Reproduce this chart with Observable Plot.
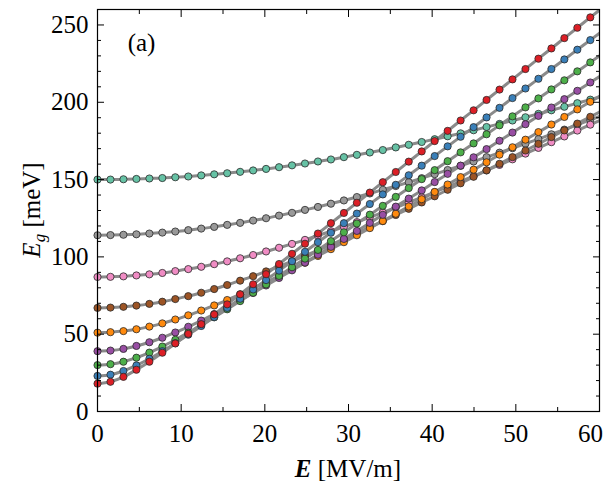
<!DOCTYPE html>
<html><head><meta charset="utf-8">
<script src="https://cdn.jsdelivr.net/npm/d3@7"></script>
<script src="https://cdn.jsdelivr.net/npm/@observablehq/plot@0.6"></script>
<style>body{margin:0;background:#fff}</style>
</head><body><div id="chart"></div>
<script>
// Field values (MV/m)
const field = [0, 1.55, 3.1, 4.65, 6.2, 7.75, 9.3, 10.85, 12.4, 13.95, 15.5, 17.05, 18.6, 20.15, 21.7, 23.25, 24.8, 26.35, 27.9, 29.45, 31, 32.55, 34.1, 35.65, 37.2, 38.75, 40.3, 41.85, 43.4, 44.95, 46.5, 48.05, 49.6, 51.15, 52.7, 54.25, 55.8, 57.35, 58.9];
const lineEndField = 60;

// Gap values (meV), one array per series
const teal   = [150.0,150.0,150.2,150.4,150.7,151.0,151.5,152.0,152.7,153.4,154.1,155.0,155.9,156.9,158.0,159.2,160.4,161.7,163.0,164.5,166.0,167.5,169.1,170.8,172.5,174.3,176.1,178.0,179.9,181.9,184.0,186.0,188.2,190.3,192.5,194.8,197.1,199.4,201.7];
const gray   = [114.0,114.1,114.3,114.6,115.1,115.7,116.4,117.3,118.3,119.4,120.7,122.0,123.5,125.0,126.7,128.5,130.4,132.3,134.4,136.5,138.7,141.0,143.4,145.8,148.3,150.9,153.5,156.2,158.9,161.7,164.5,167.4,170.3,173.2,176.2,179.3,182.3,185.4,188.6];
const pink   = [87.0,87.1,87.4,88.0,88.7,89.6,90.8,92.1,93.6,95.3,97.1,99.1,101.2,103.5,105.9,108.4,111.0,113.8,116.6,119.5,122.5,125.6,128.7,131.9,135.2,138.5,141.9,145.3,148.8,152.3,155.9,159.5,163.1,166.8,170.5,174.2,177.9,181.7,185.5];
const brown  = [67.0,67.2,67.7,68.5,69.6,71.0,72.7,74.6,76.8,79.2,81.8,84.6,87.5,90.6,93.9,97.2,100.7,104.2,107.8,111.6,115.4,119.2,123.1,127.1,131.1,135.2,139.2,143.4,147.6,151.8,156.0,160.2,164.5,168.8,173.1,177.5,181.8,186.2,190.6];
const orange = [51.0,51.3,52.0,53.2,54.9,57.0,59.5,62.2,65.3,68.6,72.1,75.8,79.6,83.6,87.7,91.9,96.2,100.6,105.0,109.5,114.0,118.6,123.2,127.9,132.6,137.3,142.0,146.8,151.6,156.4,161.2,166.1,170.9,175.8,180.7,185.6,190.5,195.4,200.3];
const purple = [39.0,39.4,40.5,42.4,44.8,47.7,51.1,54.8,58.8,63.0,67.5,72.0,76.7,81.5,86.4,91.3,96.3,101.4,106.5,111.6,116.8,122.0,127.2,132.5,137.7,143.0,148.4,153.7,159.0,164.4,169.7,175.1,180.4,185.8,191.2,196.6,202.0,207.4,212.8];
const green  = [30.0,30.6,32.2,34.8,38.1,42.0,46.4,51.0,55.9,60.9,66.1,71.4,76.8,82.2,87.7,93.3,98.9,104.5,110.2,115.9,121.6,127.3,133.0,138.8,144.5,150.3,156.1,161.9,167.6,173.4,179.3,185.1,190.9,196.7,202.5,208.3,214.2,220.0,225.8];
const blue   = [23.0,23.8,26.2,29.8,34.1,39.0,44.2,49.7,55.3,61.1,67.0,72.9,78.9,85.0,91.1,97.2,103.3,109.5,115.6,121.8,128.0,134.2,140.4,146.6,152.8,159.0,165.2,171.5,177.7,183.9,190.2,196.4,202.7,208.9,215.2,221.5,227.7,234.0,240.2];
const red    = [18.0,19.2,22.4,27.0,32.2,38.0,44.0,50.2,56.5,62.8,69.3,75.8,82.3,88.8,95.4,102.0,108.5,115.1,121.8,128.4,135.0,141.6,148.3,154.9,161.6,168.2,174.9,181.5,188.2,194.8,201.5,208.2,214.8,221.5,228.2,234.8,241.5,248.2,254.9];

// Fit-curve value at the right edge (x = 60) for each series
const seriesNames = ["S1","S2","S3","S4","S5","S6","S7","S8","S9"];
const seriesColors = ["#66c2a5","#999999","#f08cc4","#9c5425","#ff8a0e","#984ea3","#4daf4a","#3a7fb8","#dc1f26"];
const lineEndValues = [203.4, 190.8, 188.2, 193.7, 203.8, 216.6, 230.0, 244.7, 259.6];
const seriesValues = [teal, gray, pink, brown, orange, purple, green, blue, red];

const xMajor = [0, 10, 20, 30, 40, 50, 60];
const xMinor = [5, 15, 25, 35, 45, 55];
const yMajor = [0, 50, 100, 150, 200, 250];
const yMinor = [10, 20, 30, 40, 60, 70, 80, 90, 110, 120, 130, 140, 160, 170, 180, 190, 210, 220, 230, 240, 260];

const dots = [];
const lines = [];
seriesNames.forEach((s, k) => {
  seriesValues[k].forEach((v, i) => {
    dots.push({series: s, order: k, x: field[i], y: v});
    lines.push({series: s, x: field[i], y: v});
  });
  lines.push({series: s, x: lineEndField, y: lineEndValues[k]});
});

const font = "Liberation Serif, Times New Roman, serif";
const fs = 25;

const plot = Plot.plot({
  width: 607, height: 489,
  marginLeft: 97, marginRight: 8, marginTop: 9, marginBottom: 78,
  style: {fontFamily: font, fontSize: fs + "px", background: "white", color: "black", overflow: "visible"},
  x: {domain: [0, 60]},
  y: {domain: [0, 260]},
  color: {domain: seriesNames, range: seriesColors},
  marks: [
    Plot.line(lines, {x: "x", y: "y", z: "series", stroke: "#8a8a8a", strokeWidth: 3, curve: "monotone-x", clip: true}),
    Plot.dot(dots, {x: "x", y: "y", fill: "series", r: 3.6, stroke: "#2a2a2a", strokeWidth: 0.8}),
    Plot.frame({stroke: "black", strokeWidth: 1.2}),
    // labels
    Plot.axisX(xMajor.slice(0, -1), {anchor: "bottom", tickSize: 0, tickPadding: 13, fontSize: fs, label: null}),
    Plot.axisX(xMajor.slice(-1), {anchor: "bottom", tickSize: 0, tickPadding: 13, dx: -9, fontSize: fs, label: null}),
    Plot.axisY(yMajor, {anchor: "left", tickSize: 0, tickPadding: 9, fontSize: fs, label: null}),
    // inward ticks
    Plot.axisX(xMajor, {anchor: "bottom", tickSize: -7, tickFormat: () => "", label: null}),
    Plot.axisX(xMinor, {anchor: "bottom", tickSize: -4, tickFormat: () => "", label: null}),
    Plot.axisX(xMajor, {anchor: "top", tickSize: -7, tickFormat: () => "", label: null}),
    Plot.axisX(xMinor, {anchor: "top", tickSize: -4, tickFormat: () => "", label: null}),
    Plot.axisY(yMajor, {anchor: "left", tickSize: -7, tickFormat: () => "", label: null}),
    Plot.axisY(yMinor, {anchor: "left", tickSize: -4, tickFormat: () => "", label: null}),
    Plot.axisY(yMajor, {anchor: "right", tickSize: -7, tickFormat: () => "", label: null}),
    Plot.axisY(yMinor, {anchor: "right", tickSize: -4, tickFormat: () => "", label: null}),
    Plot.text(["(a)"], {frameAnchor: "top-left", dx: 44, dy: 33, fontSize: fs, textAnchor: "middle", lineAnchor: "middle"})
  ]
});

const svg = d3.select(plot);
const xl = svg.append("text")
  .attr("x", 348).attr("y", 477)
  .attr("text-anchor", "middle")
  .attr("font-family", font).attr("font-size", fs).attr("fill", "black");
xl.append("tspan").attr("font-weight", "bold").attr("font-style", "italic").text("E");
xl.append("tspan").text(" [MV/m]");

const yl = svg.append("text")
  .attr("transform", "translate(40,210) rotate(-90)")
  .attr("text-anchor", "middle")
  .attr("font-family", font).attr("font-size", fs).attr("fill", "black");
yl.append("tspan").attr("font-style", "italic").text("E");
yl.append("tspan").attr("font-style", "italic").attr("font-size", 17).attr("dy", 5).text("g");
yl.append("tspan").attr("dy", -5).text(" [meV]");

document.getElementById("chart").appendChild(plot);
</script>
</body></html>
